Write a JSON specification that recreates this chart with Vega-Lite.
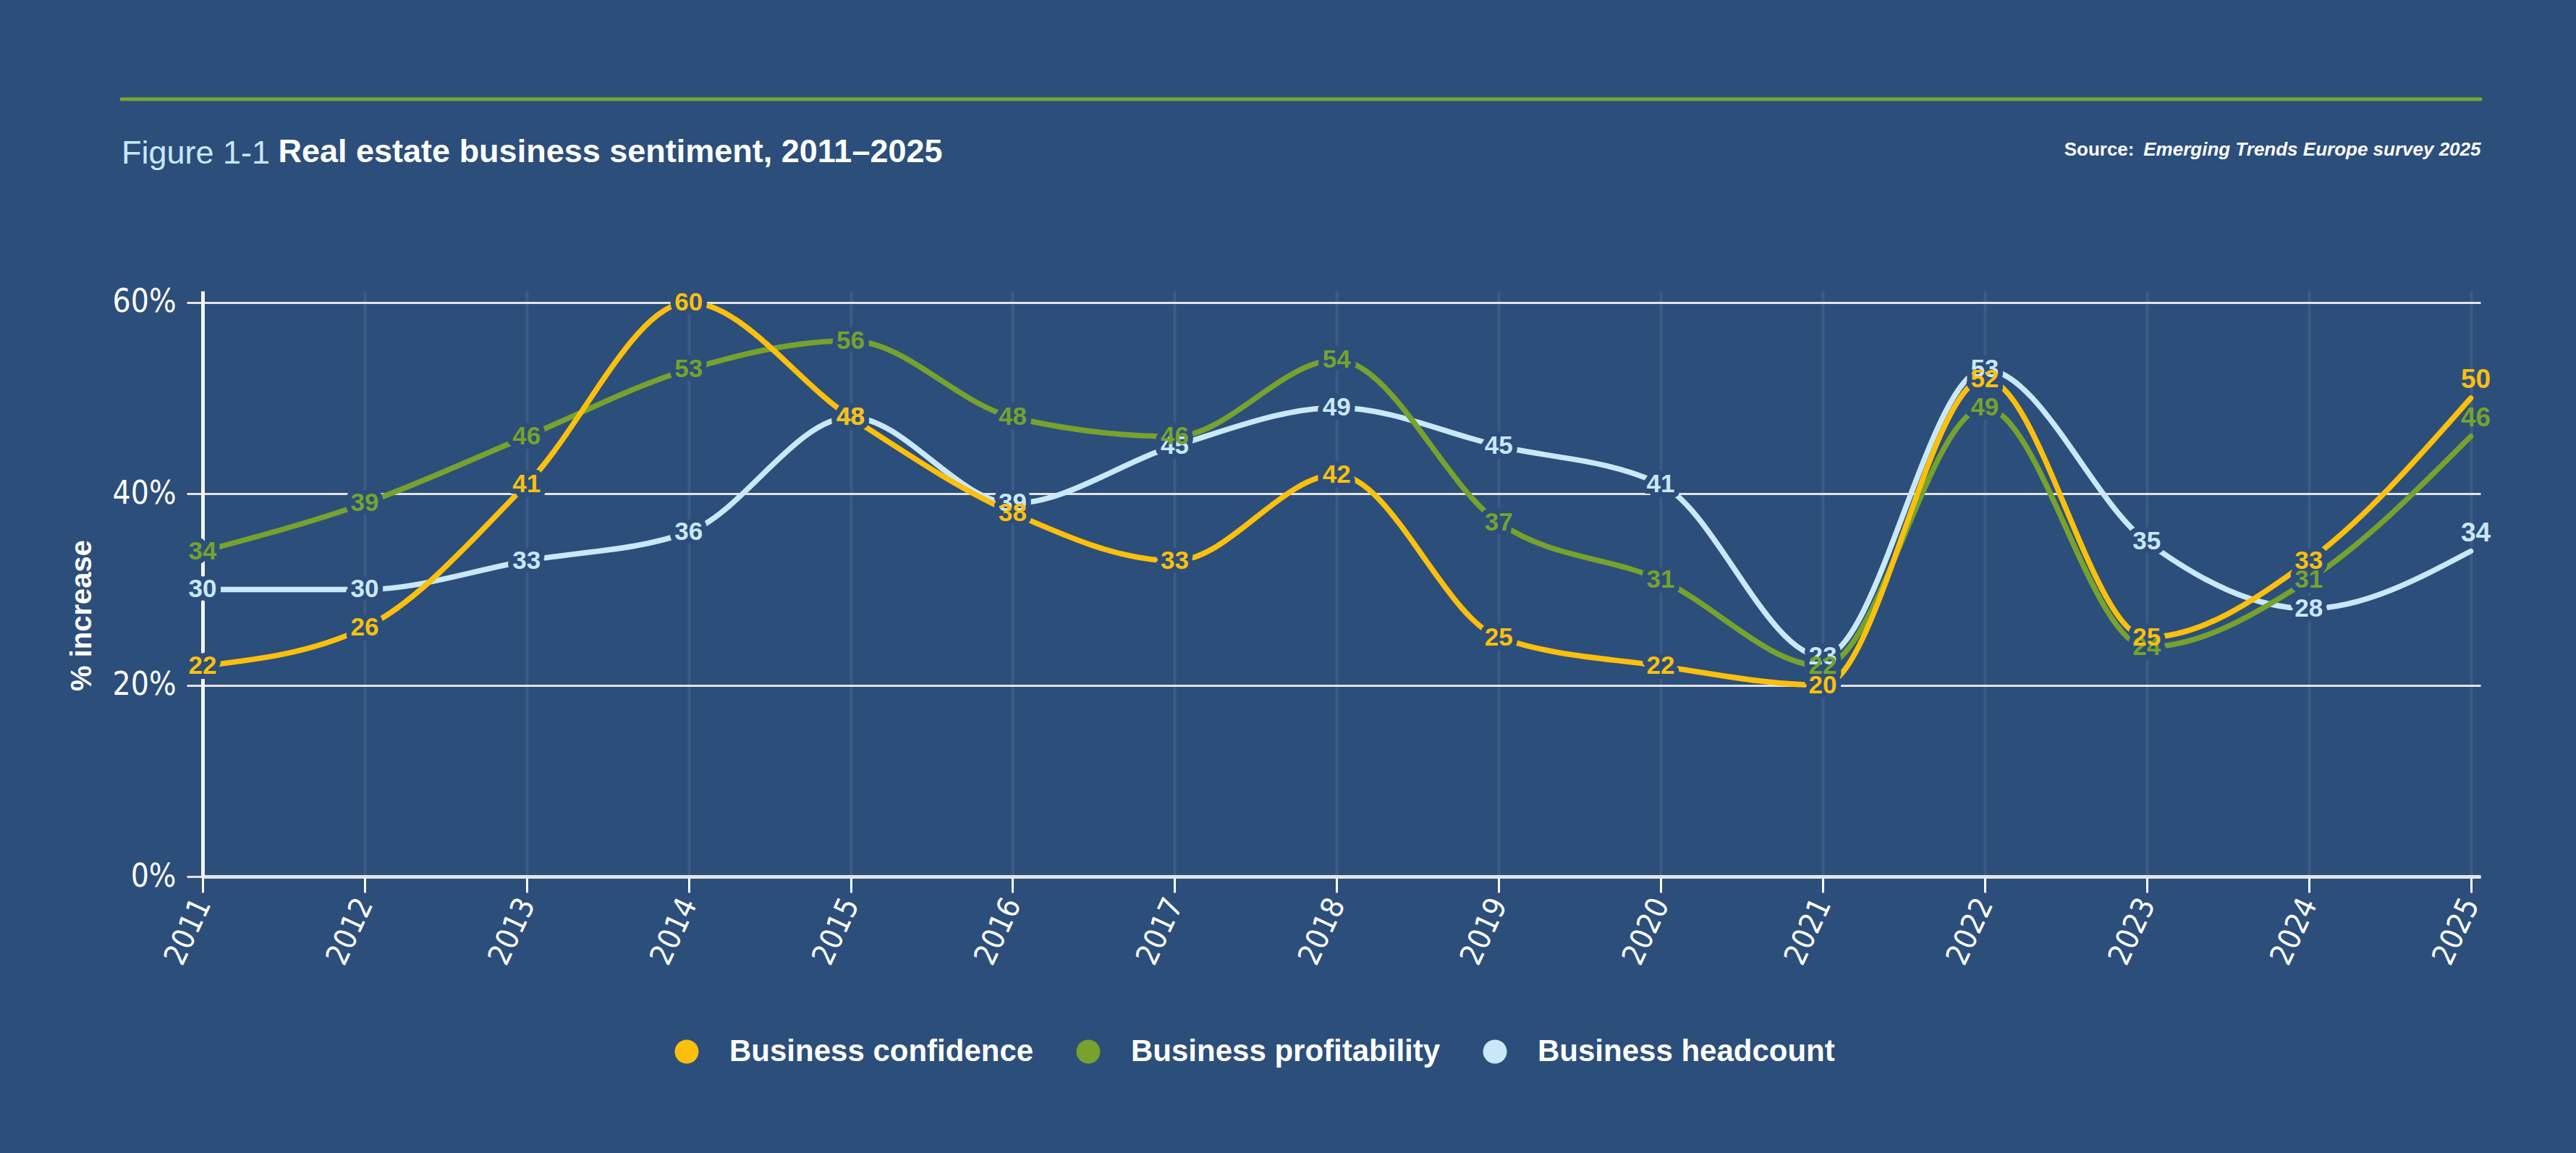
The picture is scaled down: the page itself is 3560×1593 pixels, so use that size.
{
  "$schema": "https://vega.github.io/schema/vega-lite/v6.json",
  "autosize": "none",
  "width": 3148,
  "height": 809,
  "padding": {"left": 280, "top": 402, "right": 132, "bottom": 382},
  "background": "#2c4e7b",
  "config": {"view": {"stroke": null}, "font": "Liberation Sans"},
  "title": {
    "text": "Figure 1-1",
    "anchor": "start",
    "frame": "group",
    "orient": "top",
    "font": "Liberation Sans",
    "fontSize": 45,
    "fontWeight": "normal",
    "color": "#c9e8f9",
    "dx": -112,
    "dy": 101,
    "baseline": "alphabetic",
    "offset": -36
  },
  "datasets": {
    "sentiment": [
      {"year": 2011, "series": "Business headcount", "value": 30},
      {"year": 2012, "series": "Business headcount", "value": 30},
      {"year": 2013, "series": "Business headcount", "value": 33},
      {"year": 2014, "series": "Business headcount", "value": 36},
      {"year": 2015, "series": "Business headcount", "value": 48},
      {"year": 2016, "series": "Business headcount", "value": 39},
      {"year": 2017, "series": "Business headcount", "value": 45},
      {"year": 2018, "series": "Business headcount", "value": 49},
      {"year": 2019, "series": "Business headcount", "value": 45},
      {"year": 2020, "series": "Business headcount", "value": 41},
      {"year": 2021, "series": "Business headcount", "value": 23},
      {"year": 2022, "series": "Business headcount", "value": 53},
      {"year": 2023, "series": "Business headcount", "value": 35},
      {"year": 2024, "series": "Business headcount", "value": 28},
      {"year": 2025, "series": "Business headcount", "value": 34},
      {"year": 2011, "series": "Business profitability", "value": 34},
      {"year": 2012, "series": "Business profitability", "value": 39},
      {"year": 2013, "series": "Business profitability", "value": 46},
      {"year": 2014, "series": "Business profitability", "value": 53},
      {"year": 2015, "series": "Business profitability", "value": 56},
      {"year": 2016, "series": "Business profitability", "value": 48},
      {"year": 2017, "series": "Business profitability", "value": 46},
      {"year": 2018, "series": "Business profitability", "value": 54},
      {"year": 2019, "series": "Business profitability", "value": 37},
      {"year": 2020, "series": "Business profitability", "value": 31},
      {"year": 2021, "series": "Business profitability", "value": 22},
      {"year": 2022, "series": "Business profitability", "value": 49},
      {"year": 2023, "series": "Business profitability", "value": 24},
      {"year": 2024, "series": "Business profitability", "value": 31},
      {"year": 2025, "series": "Business profitability", "value": 46},
      {"year": 2011, "series": "Business confidence", "value": 22},
      {"year": 2012, "series": "Business confidence", "value": 26},
      {"year": 2013, "series": "Business confidence", "value": 41},
      {"year": 2014, "series": "Business confidence", "value": 60},
      {"year": 2015, "series": "Business confidence", "value": 48},
      {"year": 2016, "series": "Business confidence", "value": 38},
      {"year": 2017, "series": "Business confidence", "value": 33},
      {"year": 2018, "series": "Business confidence", "value": 42},
      {"year": 2019, "series": "Business confidence", "value": 25},
      {"year": 2020, "series": "Business confidence", "value": 22},
      {"year": 2021, "series": "Business confidence", "value": 20},
      {"year": 2022, "series": "Business confidence", "value": 52},
      {"year": 2023, "series": "Business confidence", "value": 25},
      {"year": 2024, "series": "Business confidence", "value": 33},
      {"year": 2025, "series": "Business confidence", "value": 50}
    ]
  },
  "data": {"name": "sentiment"},
  "layer": [
    {
      "data": {"values": [{"item": "rule"}]},
      "mark": {"type": "rule", "color": "#7aa62e", "strokeWidth": 5, "strokeCap": "round", "clip": false},
      "encoding": {
        "x": {"datum": 2010.5, "type": "quantitative", "axis": null},
        "x2": {"datum": 2025.06},
        "y": {"datum": 81.25, "type": "quantitative", "axis": null}
      }
    },
    {
      "mark": {"type": "line", "interpolate": "monotone", "strokeWidth": 7.5, "strokeCap": "round", "strokeJoin": "round"},
      "encoding": {
        "x": {
          "field": "year",
          "type": "quantitative",
          "scale": {"domain": [2011, 2025.06], "nice": false, "zero": false},
          "axis": {
            "orient": "bottom",
            "values": [2011, 2012, 2013, 2014, 2015, 2016, 2017, 2018, 2019, 2020, 2021, 2022, 2023, 2024, 2025],
            "format": "d",
            "labelAngle": -65,
            "labelAlign": "right",
            "labelBaseline": "middle",
            "labelPadding": 10,
            "labelFont": "Liberation Sans Narrow, DejaVu Sans Condensed, Liberation Sans",
            "labelFontSize": 42,
            "labelColor": "#ffffff",
            "labelFlush": false,
            "labelOverlap": false,
            "tickSize": 22,
            "tickWidth": 3,
            "tickColor": "#ffffff",
            "domainColor": "#e4e4e4",
            "domainWidth": 5,
            "grid": true,
            "gridColor": "#ffffff",
            "gridOpacity": 0.08,
            "gridWidth": 4,
            "title": "Real estate business sentiment, 2011–2025",
            "titleX": 104,
            "titleY": -988,
            "titleAngle": 0,
            "titleAlign": "left",
            "titleAnchor": "start",
            "titleBaseline": "alphabetic",
            "titleFont": "Liberation Sans",
            "titleFontSize": 45,
            "titleFontWeight": "bold",
            "titleColor": "#ffffff"
          }
        },
        "y": {
          "field": "value",
          "type": "quantitative",
          "scale": {"domain": [0, 61.2], "nice": false},
          "axis": {
            "orient": "left",
            "values": [0, 20, 40, 60],
            "labelExpr": "datum.value + '%'",
            "labelFont": "Liberation Sans Narrow, DejaVu Sans Condensed, Liberation Sans",
            "labelFontSize": 44,
            "labelColor": "#ffffff",
            "labelPadding": 15,
            "tickSize": 22,
            "tickWidth": 3,
            "tickColor": "#e4e4e4",
            "grid": true,
            "gridColor": "#e4e4e4",
            "gridWidth": 3,
            "domainColor": "#f4f4f4",
            "domainWidth": 5,
            "title": "% increase",
            "titleX": -167,
            "titleY": 448,
            "titleAngle": -90,
            "titleAlign": "center",
            "titleBaseline": "middle",
            "titleFont": "Liberation Sans",
            "titleFontSize": 40,
            "titleFontWeight": "bold",
            "titleColor": "#ffffff"
          }
        },
        "color": {
          "field": "series",
          "type": "nominal",
          "scale": {
            "domain": ["Business confidence", "Business profitability", "Business headcount"],
            "range": ["#fbc00b", "#76a22d", "#c9e8f9"]
          },
          "legend": {
            "orient": "none",
            "legendX": 648,
            "legendY": 1030,
            "direction": "horizontal",
            "title": null,
            "padding": 0,
            "symbolType": "circle",
            "symbolSize": 1089,
            "symbolStrokeWidth": 0,
            "labelFont": "Liberation Sans",
            "labelFontSize": 42,
            "labelFontWeight": "bold",
            "labelColor": "#ffffff",
            "labelOffset": 38,
            "labelLimit": 1000,
            "columnPadding": 54,
            "encode": {
              "symbols": {
                "update": {
                  "fill": {"scale": "color", "field": "value"},
                  "stroke": {"value": "transparent"}
                }
              }
            }
          }
        }
      }
    },
    {
      "transform": [{"filter": "datum.year < 2025"}],
      "mark": {"type": "text", "font": "Liberation Sans", "fontSize": 35, "fontWeight": "bold", "fill": "#2c4e7b", "stroke": "#2c4e7b", "strokeWidth": 14, "strokeJoin": "round", "align": "center", "baseline": "middle"},
      "encoding": {
        "x": {
          "field": "year",
          "type": "quantitative",
          "axis": {
            "orient": "top",
            "labels": false,
            "ticks": false,
            "domain": false,
            "grid": false,
            "title": "Emerging Trends Europe survey 2025",
            "titleX": 3148,
            "titleY": -188,
            "titleAngle": 0,
            "titleAlign": "right",
            "titleBaseline": "alphabetic",
            "titleFont": "Liberation Sans",
            "titleFontSize": 26,
            "titleFontWeight": "bold",
            "titleFontStyle": "italic",
            "titleColor": "#ffffff"
          }
        },
        "y": {
          "field": "value",
          "type": "quantitative",
          "axis": {
            "orient": "right",
            "labels": false,
            "ticks": false,
            "domain": false,
            "grid": false,
            "title": "Source:",
            "titleX": -479,
            "titleY": -188,
            "titleAngle": 0,
            "titleAlign": "right",
            "titleBaseline": "alphabetic",
            "titleFont": "Liberation Sans",
            "titleFontSize": 26,
            "titleFontWeight": "bold",
            "titleColor": "#ffffff"
          }
        },
        "text": {"field": "value", "type": "quantitative"}
      }
    },
    {
      "transform": [{"filter": "datum.year < 2025"}],
      "mark": {"type": "text", "font": "Liberation Sans", "fontSize": 35, "fontWeight": "bold", "align": "center", "baseline": "middle"},
      "encoding": {
        "x": {"field": "year", "type": "quantitative", "axis": null},
        "y": {"field": "value", "type": "quantitative", "axis": null},
        "color": {"field": "series", "type": "nominal", "legend": null},
        "text": {"field": "value", "type": "quantitative"}
      }
    },
    {
      "transform": [{"filter": "datum.year == 2025"}],
      "mark": {"type": "text", "font": "Liberation Sans", "fontSize": 37, "fontWeight": "bold", "align": "center", "baseline": "middle", "dx": 7, "dy": -25},
      "encoding": {
        "x": {"field": "year", "type": "quantitative", "axis": null},
        "y": {"field": "value", "type": "quantitative", "axis": null},
        "color": {"field": "series", "type": "nominal", "legend": null},
        "text": {"field": "value", "type": "quantitative"}
      }
    }
  ],
  "resolve": {"axis": {"x": "independent", "y": "independent"}}
}
